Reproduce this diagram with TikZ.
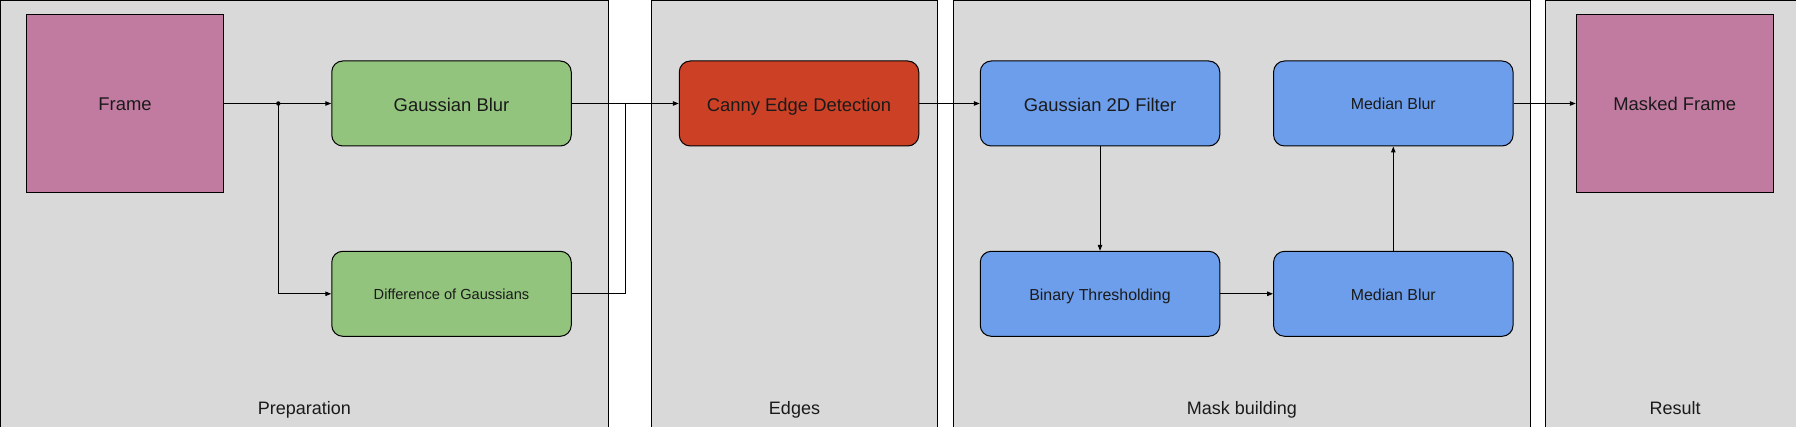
\documentclass[tikz,border=0pt]{standalone}
\usepackage{fontspec}
\setmainfont{Liberation Sans}
\usetikzlibrary{arrows.meta}
\definecolor{panelgray}{HTML}{D9D9D9}
\definecolor{framepink}{HTML}{C27BA0}
\definecolor{prepgreen}{HTML}{93C47D}
\definecolor{edgered}{HTML}{CC4125}
\definecolor{maskblue}{HTML}{6D9EEB}
\definecolor{txt}{HTML}{1A1A1A}
\tikzset{
  panel/.style={draw=black, fill=panelgray, line width=1pt},
  panellabel/.style={font=\fontsize{18}{20}\selectfont, text=txt, anchor=base, inner sep=0pt},
  framebox/.style={draw=black, fill=framepink, line width=1pt, minimum width=197pt, minimum height=177.5pt, inner sep=0pt, font=\fontsize{18.4}{20}\selectfont, text=txt, text height=14.5pt, text depth=0pt},
  stepbox/.style={draw=black, line width=1pt, rounded corners=11pt, minimum width=239.5pt, minimum height=85pt, inner sep=0pt, text=txt},
  bigtext/.style={font=\fontsize{18.4}{20}\selectfont, text height=15.4pt, text depth=0pt},
  smalltext/.style={font=\fontsize{15.9}{18}\selectfont, text height=12.6pt, text depth=0pt},
  tinytext/.style={font=\fontsize{14.6}{16}\selectfont, text height=10.6pt, text depth=0pt},
  arr/.style={line width=1pt, -{Triangle[length=6pt,width=4.5pt]}},
  conn/.style={line width=1pt},
}
\begin{document}
\begin{tikzpicture}[x=1pt, y=-1pt]
\useasboundingbox (0,0) rectangle (1796,427);
\clip (0,0) rectangle (1796,427);
% panels
\path[panel] (0.5,0.5) rectangle (608.5,440);
\path[panel] (651.5,0.5) rectangle (937.5,440);
\path[panel] (953.5,0.5) rectangle (1530.5,440);
\path[panel] (1545.5,0.5) rectangle (1805,440);
\node[panellabel] (lprep) at (304.3,414.3) {Preparation};
\node[panellabel] (ledges) at (794.5,414.3) {Edges};
\node[panellabel] (lmask) at (1242,414.3) {Mask building};
\node[panellabel] (lres) at (1675,414.3) {Result};
% boxes
\node[framebox] (frame) at (125,103.75) {Frame};
\node[stepbox, fill=prepgreen, bigtext] (gb) at (451.5,103.5) {Gaussian Blur};
\node[stepbox, fill=prepgreen, tinytext] (dog) at (451.5,293.8) {Difference of Gaussians};
\node[stepbox, fill=edgered, bigtext] (canny) at (799,103.5) {Canny Edge Detection};
\node[stepbox, fill=maskblue, bigtext] (g2d) at (1100,103.5) {Gaussian 2D Filter};
\node[stepbox, fill=maskblue, smalltext] (bt) at (1100,293.8) {Binary Thresholding};
\node[stepbox, fill=maskblue, smalltext] (mbt) at (1393.3,103.5) {Median Blur};
\node[stepbox, fill=maskblue, smalltext] (mbb) at (1393.3,293.8) {Median Blur};
\node[framebox] (mframe) at (1674.75,103.75) {Masked Frame};
% connectors
\coordinate (j) at (278.3,103.5);
\coordinate (m) at (625.5,103.5);
\draw[arr] (frame.east |- j) -- (gb.west);
\fill (j) circle (2.2pt);
\draw[arr] (j) |- (dog.west);
\draw[arr] (gb.east) -- (canny.west);
\draw[conn] (dog.east) -| (m);
\draw[arr] (canny.east) -- (g2d.west);
\draw[arr] (g2d.south) -- (bt.north);
\draw[arr] (bt.east) -- (mbb.west);
\draw[arr] (mbb.north) -- (mbt.south);
\draw[arr] (mbt.east) -- (mframe.west |- mbt.east);
\end{tikzpicture}
\end{document}
